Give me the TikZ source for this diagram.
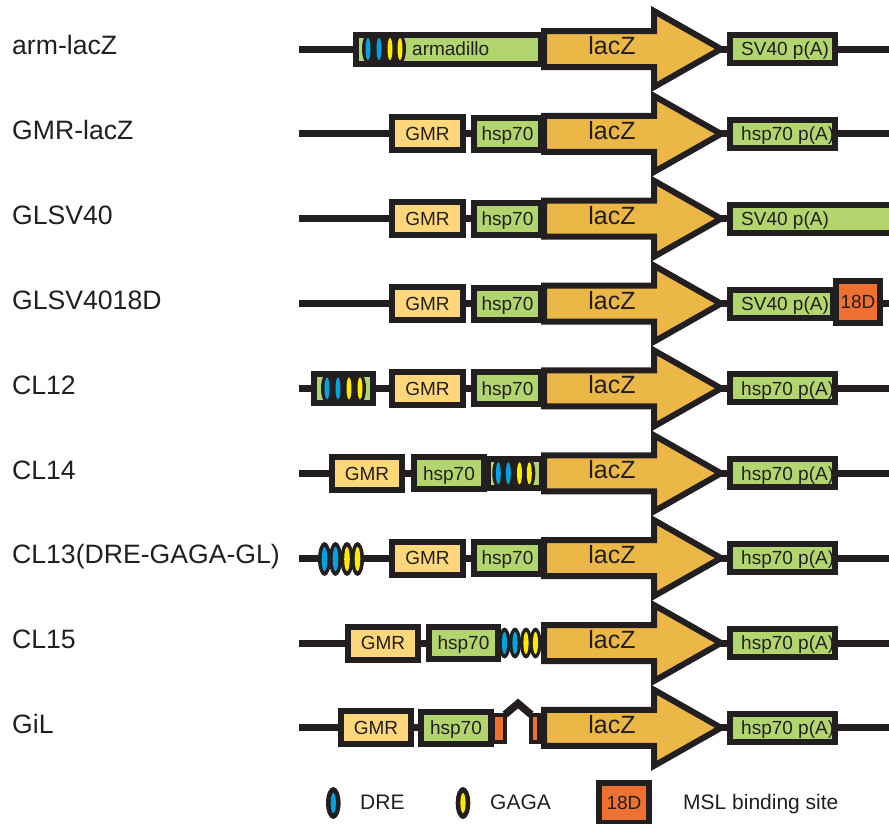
\documentclass[tikz,border=0pt]{standalone}
\usepackage{fontspec}
\setmainfont{Liberation Sans}
\definecolor{ink}{HTML}{231F20}
\definecolor{grn}{HTML}{B3D56F}
\definecolor{gmrc}{HTML}{FED77A}
\definecolor{lacc}{HTML}{EBB746}
\definecolor{org}{HTML}{EE7131}
\definecolor{dre}{HTML}{00A3E0}
\definecolor{gaga}{HTML}{FFEA00}
\tikzset{
 backbone/.style={draw=ink, line width=7pt},
 blk/.style={draw=ink, line width=6pt, inner sep=0pt, text=ink, font=\fontsize{19}{19}\selectfont, text height=13.6pt, text depth=0pt},
 gmrbox/.style={blk, fill=gmrc, minimum width=71pt, minimum height=33pt},
 hspbox/.style={blk, fill=grn, minimum height=32pt},
 pabox/.style={blk, fill=grn, minimum height=28pt},
 brbox/.style={blk, fill=grn, minimum height=29pt},
 mslbox/.style={blk, fill=org, minimum width=44pt, minimum height=42pt},
 smallorg/.style={draw=ink, fill=org, line width=4pt, inner sep=0pt, minimum height=27pt},
 intron/.style={draw=ink, line width=7.5pt, line join=miter, line cap=butt},
 arrowshape/.style={draw=ink, fill=lacc, line width=6pt, line join=miter, miter limit=10},
 lactext/.style={font=\fontsize{25}{25}\selectfont, text=ink, inner sep=0pt, text height=17.9pt, text depth=0pt},
 boxtext/.style={font=\fontsize{19}{19}\selectfont, text=ink, inner sep=0pt, anchor=base west},
 rowlabel/.style={font=\fontsize{26.6}{26.6}\selectfont, text=ink, inner sep=0pt, anchor=base west},
 legtext/.style={font=\fontsize{21}{21}\selectfont, text=ink, inner sep=0pt, anchor=base west},
}
\newcommand{\laczarrow}[2]{%
  \draw[arrowshape] (544,#2-18) -- (654,#2-18) -- (654,#2-38) -- (721,#2) -- (654,#2+38) -- (654,#2+18) -- (544,#2+18) -- cycle;
  \node[lactext] (#1) at (612,#2-3.5) {lacZ};
}
\newcommand{\chain}[6]{%
  \foreach \xx/\cc in {#6} {\fill[ink] (\xx,#1) ellipse [x radius=#2pt, y radius=#3pt];}
  \foreach \xx/\cc in {#6} {\fill[\cc] (\xx,#1) ellipse [x radius=#4pt, y radius=#5pt];}
}
\begin{document}
\begin{tikzpicture}[x=1pt,y=-1pt]
\useasboundingbox (0,0) rectangle (889,823);
\fill[white] (0,0) rectangle (889,823);
\clip (0,0) rectangle (889,823);

% ---------- row labels ----------
\node[rowlabel] (l0) at (12,54.7) {arm-lacZ};
\node[rowlabel] (l1) at (12,139.6) {GMR-lacZ};
\node[rowlabel] (l2) at (12,224.4) {GLSV40};
\node[rowlabel] (l3) at (12,309.3) {GLSV4018D};
\node[rowlabel] (l4) at (12,394.1) {CL12};
\node[rowlabel] (l5) at (12,479.0) {CL14};
\node[rowlabel] (l6) at (12,563.8) {CL13(DRE-GAGA-GL)};
\node[rowlabel] (l7) at (12,648.7) {CL15};
\node[rowlabel] (l8) at (12,733.5) {GiL};

% ---------- backbones ----------
\foreach \c/\n in {49/0,133.9/1,218.7/2,303.6/3,388.4/4,473.3/5,558.1/6,643/7}{
  \coordinate (s\n) at (299,\c);
  \coordinate (e\n) at (889,\c);
  \draw[backbone] (s\n) -- (e\n);
}

% ---------- row 0: arm-lacZ ----------
\node[brbox, minimum width=185pt] (arm) at (448.5,49) {};
\fill[ink] (368,37.5) rectangle (400,60.5);
\chain{49}{6}{15}{2.5}{11}{368/dre,379/dre,390/gaga,400/gaga}
\node[boxtext] (armt) at (412,55.8) {armadillo};
\laczarrow{lz0}{49}
\node[pabox, minimum width=105pt] (pa0) at (782.5,49) {};
\node[boxtext] (pat0) at (741,55.8) {SV40 p(A)};

% ---------- row 1: GMR-lacZ ----------
\node[gmrbox] (g1) at (427.5,133.9) {GMR};
\node[hspbox, minimum width=67pt] (h1) at (507.5,133.9) {hsp70};
\laczarrow{lz1}{133.9}
\node[pabox, minimum width=105pt] (pa1) at (782.5,133.9) {};
\node[boxtext] (pat1) at (741,140.7) {hsp70 p(A)};

% ---------- row 2: GLSV40 ----------
\node[gmrbox] (g2) at (427.5,218.7) {GMR};
\node[hspbox, minimum width=67pt] (h2) at (507.5,218.7) {hsp70};
\laczarrow{lz2}{218.7}
\node[pabox, minimum width=167pt] (pa2) at (813.5,218.7) {};
\node[boxtext] (pat2) at (741,225.5) {SV40 p(A)};

% ---------- row 3: GLSV4018D ----------
\node[gmrbox] (g3) at (427.5,303.6) {GMR};
\node[hspbox, minimum width=67pt] (h3) at (507.5,303.6) {hsp70};
\laczarrow{lz3}{303.6}
\node[pabox, minimum width=103pt] (pa3) at (781.5,303.6) {};
\node[boxtext] (pat3) at (741,310.4) {SV40 p(A)};
\node[mslbox] (m3) at (858,301.5) {18D};

% ---------- row 4: CL12 ----------
\node[brbox, minimum width=59pt] (br4) at (343.5,388.4) {};
\fill[ink] (327,376.9) rectangle (360,399.9);
\chain{388.4}{6}{15}{2.5}{11}{327/dre,338/dre,349/gaga,360/gaga}
\node[gmrbox] (g4) at (427.5,388.4) {GMR};
\node[hspbox, minimum width=67pt] (h4) at (507.5,388.4) {hsp70};
\laczarrow{lz4}{388.4}
\node[pabox, minimum width=105pt] (pa4) at (782.5,388.4) {};
\node[boxtext] (pat4) at (741,395.2) {hsp70 p(A)};

% ---------- row 5: CL14 ----------
\node[gmrbox, minimum width=70pt] (g5) at (367,473.3) {GMR};
\node[brbox, minimum width=54pt] (br5) at (515,473.3) {};
\fill[ink] (498.3,461.8) rectangle (529.3,484.8);
\chain{473.3}{6}{15}{2.5}{11}{498.3/dre,508.3/dre,519.5/gaga,529.3/gaga}
\node[hspbox, minimum width=70pt] (h5) at (449,473.3) {hsp70};
\laczarrow{lz5}{473.3}
\node[pabox, minimum width=105pt] (pa5) at (782.5,473.3) {};
\node[boxtext] (pat5) at (741,480.1) {hsp70 p(A)};

% ---------- row 6: CL13 ----------
\chain{559}{6.5}{17}{2.8}{12}{324.5/dre,335.5/dre,347/gaga,357.5/gaga}
\node[gmrbox] (g6) at (427.5,558.1) {GMR};
\node[hspbox, minimum width=67pt] (h6) at (507.5,558.1) {hsp70};
\laczarrow{lz6}{558.1}
\node[pabox, minimum width=105pt] (pa6) at (782.5,558.1) {};
\node[boxtext] (pat6) at (741,564.9) {hsp70 p(A)};

% ---------- row 7: CL15 ----------
\node[gmrbox, minimum width=70pt] (g7) at (383,643) {GMR};
\node[hspbox, minimum width=69pt] (h7) at (463.5,643) {hsp70};
\chain{643}{6}{15.5}{2.6}{11}{504.5/dre,515/dre,526/gaga,535.5/gaga}
\laczarrow{lz7}{643}
\node[pabox, minimum width=105pt] (pa7) at (782.5,643) {};
\node[boxtext] (pat7) at (741,649.8) {hsp70 p(A)};

% ---------- row 8: GiL ----------
\coordinate (s8) at (299,727.8);
\coordinate (e8) at (889,727.8);
\coordinate (j1) at (499,727.8);
\coordinate (j2) at (535,727.8);
\draw[backbone] (s8) -- (j1);
\draw[backbone] (j2) -- (e8);
\node[gmrbox, minimum width=70pt] (g8) at (376,727.8) {GMR};
\node[hspbox, minimum width=70pt] (h8) at (456,727.8) {hsp70};
\node[smallorg, minimum width=12pt] (o1) at (499,728.5) {};
\node[smallorg, minimum width=8pt] (o2) at (535,728.5) {};
\coordinate (peak) at (518,703.5);
\draw[intron] ([xshift=-2pt,yshift=-1.5pt]o1.north east) -- (peak) -- ([xshift=2pt,yshift=-1.5pt]o2.north west);
\laczarrow{lz8}{727.8}
\node[pabox, minimum width=105pt] (pa8) at (782.5,727.8) {};
\node[boxtext] (pat8) at (741,734.6) {hsp70 p(A)};

% ---------- legend ----------
\chain{803}{7.3}{16}{2.6}{10}{333.3/dre}
\node[legtext] (ldre) at (360,809) {DRE};
\chain{803}{7.3}{16}{2.6}{10}{463/gaga}
\node[legtext] (lgaga) at (490,809) {GAGA};
\node[mslbox, minimum width=50pt, minimum height=40pt] (lmsl) at (624,803) {18D};
\node[legtext] (lmslt) at (683,809) {MSL binding site};
\end{tikzpicture}
\end{document}
